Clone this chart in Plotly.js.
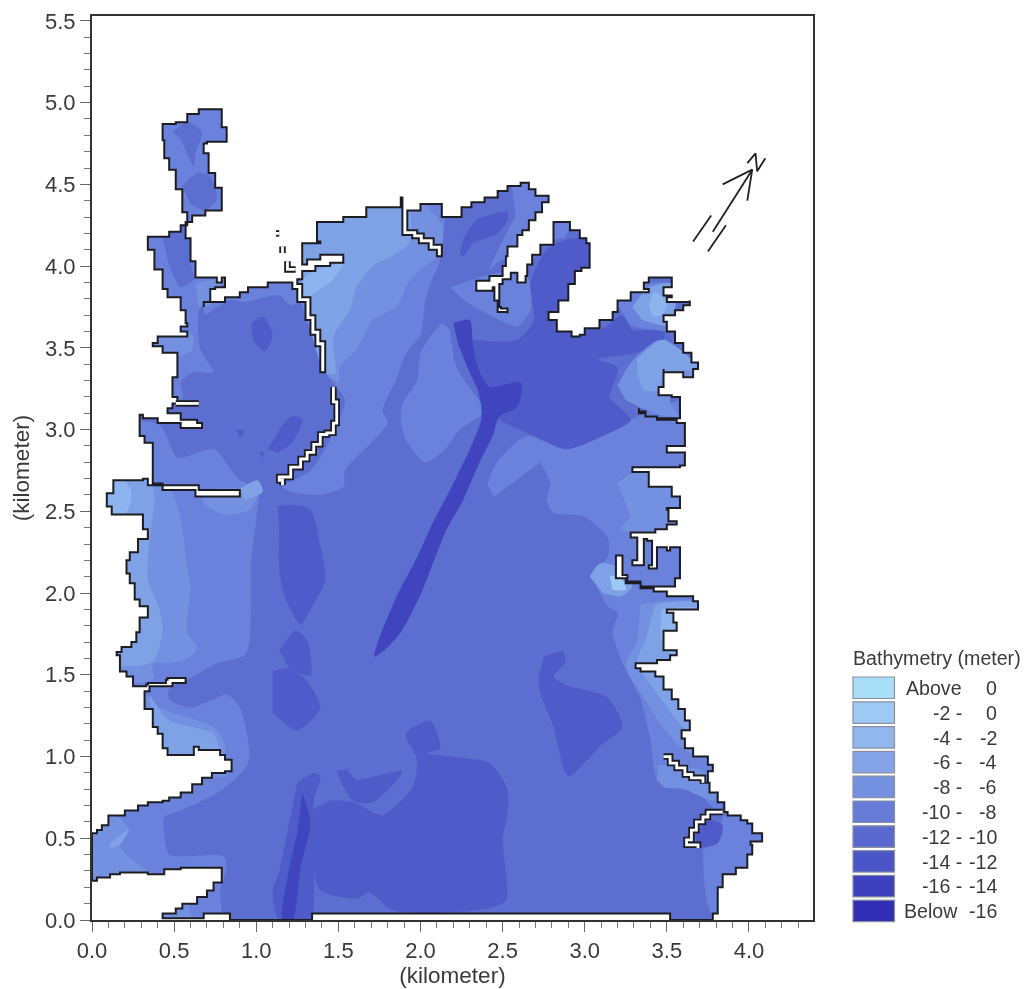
<!DOCTYPE html>
<html><head><meta charset="utf-8">
<script src="https://cdn.plot.ly/plotly-3.0.1.min.js"></script>
<style>html,body{margin:0;padding:0;background:#fff}#chart{filter:blur(.4px)}</style></head>
<body><div id="chart" style="width:1025px;height:989px"></div>
<script>
// Model boundary (km)
const shoreline=[[0,.24],[0,.53],[.03,.55],[.06,.58],[.10,.64],[.20,.67],[.28,.70],[.34,.72],[.43,.73],[.47,.75],[.54,.78],[.61,.83],[.67,.87],[.73,.90],[.81,.91],[.85,.94],[.85,.98],[.81,1.01],[.78,1.04],[.70,1.04],[.65,1.06],[.62,1.01],[.52,1.01],[.46,1.05],[.43,1.14],[.40,1.18],[.37,1.29],[.32,1.33],[.32,1.40],[.35,1.43],[.47,1.43],[.49,1.45],[.57,1.46],[.57,1.48],[.46,1.47],[.45,1.45],[.34,1.44],[.33,1.43],[.26,1.43],[.25,1.49],[.21,1.52],[.17,1.62],[.15,1.64],[.18,1.67],[.24,1.70],[.27,1.76],[.29,1.85],[.34,1.92],[.29,1.96],[.26,2.06],[.23,2.12],[.21,2.20],[.23,2.25],[.28,2.33],[.34,2.39],[.31,2.48],[.15,2.48],[.12,2.53],[.09,2.61],[.13,2.69],[.31,2.70],[.34,2.66],[.43,2.63],[.63,2.63],[.63,2.59],[.90,2.59],[.90,2.63],[.65,2.63],[.65,2.66],[.43,2.67],[.37,2.71],[.37,2.92],[.32,2.96],[.29,3.02],[.29,3.09],[.31,3.09],[.31,3.07],[.40,3.07],[.40,3.04],[.54,3.04],[.54,3.01],[.67,3.01],[.67,3.04],[.64,3.06],[.54,3.07],[.54,3.10],[.46,3.10],[.46,3.13],[.49,3.13],[.49,3.16],[.52,3.20],[.49,3.26],[.49,3.32],[.52,3.47],[.43,3.51],[.37,3.53],[.40,3.57],[.58,3.57],[.58,3.60],[.54,3.60],[.54,3.63],[.58,3.65],[.57,3.73],[.54,3.78],[.54,3.81],[.46,3.86],[.43,3.98],[.38,4.10],[.34,4.14],[.34,4.18],[.47,4.21],[.54,4.25],[.58,4.33],[.55,4.47],[.51,4.59],[.47,4.66],[.44,4.77],[.43,4.87],[.51,4.88],[.58,4.93],[.65,4.96],[.76,4.96],[.79,4.93],[.79,4.85],[.82,4.85],[.82,4.76],[.70,4.75],[.68,4.69],[.71,4.57],[.75,4.48],[.79,4.39],[.79,4.34],[.69,4.31],[.61,4.27],[.57,4.17],[.60,4.03],[.63,3.93],[.76,3.90],[.79,3.93],[.81,3.87],[.75,3.86],[.72,3.78],[.68,3.75],[.68,3.78],[.81,3.81],[.90,3.84],[.95,3.87],[1.07,3.90],[1.18,3.90],[1.22,3.86],[1.25,3.78],[1.30,3.67],[1.33,3.58],[1.36,3.51],[1.39,3.35],[1.42,3.35],[1.42,3.54],[1.39,3.61],[1.36,3.70],[1.33,3.81],[1.28,3.89],[1.25,3.92],[1.28,3.97],[1.36,4.00],[1.45,4.02],[1.53,4.04],[1.53,4.07],[1.39,4.04],[1.31,4.01],[1.28,4.14],[1.39,4.15],[1.37,4.27],[1.53,4.30],[1.67,4.36],[1.75,4.36],[1.88,4.42],[1.89,4.31],[1.89,4.19],[1.95,4.17],[1.99,4.14],[2.05,4.10],[2.10,4.06],[2.13,4.06],[2.13,4.13],[2.08,4.17],[2.02,4.20],[1.98,4.22],[1.92,4.34],[1.95,4.34],[2.00,4.38],[2.09,4.38],[2.13,4.30],[2.25,4.36],[2.31,4.39],[2.39,4.42],[2.47,4.46],[2.53,4.49],[2.61,4.51],[2.66,4.47],[2.70,4.43],[2.78,4.42],[2.78,4.39],[2.74,4.33],[2.70,4.28],[2.66,4.22],[2.62,4.19],[2.59,4.12],[2.53,4.06],[2.52,4.00],[2.50,3.94],[2.42,3.91],[2.34,3.88],[2.34,3.85],[2.44,3.87],[2.45,3.79],[2.47,3.72],[2.53,3.71],[2.53,3.74],[2.49,3.75],[2.48,3.89],[2.50,3.92],[2.55,3.96],[2.59,3.90],[2.64,3.94],[2.65,4.01],[2.68,4.07],[2.73,4.13],[2.81,4.18],[2.81,4.27],[2.89,4.27],[2.91,4.22],[2.97,4.17],[3.01,4.14],[3.03,3.99],[2.98,3.97],[2.94,3.89],[2.90,3.79],[2.84,3.72],[2.78,3.67],[2.83,3.60],[2.92,3.57],[2.97,3.58],[3.00,3.62],[3.09,3.67],[3.17,3.72],[3.20,3.79],[3.28,3.79],[3.28,3.84],[3.39,3.86],[3.36,3.90],[3.39,3.93],[3.48,3.93],[3.53,3.87],[3.48,3.82],[3.53,3.81],[3.50,3.78],[3.60,3.78],[3.64,3.79],[3.64,3.76],[3.60,3.73],[3.55,3.70],[3.48,3.66],[3.50,3.60],[3.55,3.53],[3.60,3.47],[3.65,3.41],[3.69,3.37],[3.66,3.32],[3.61,3.32],[3.60,3.35],[3.48,3.37],[3.48,3.26],[3.45,3.26],[3.45,3.21],[3.53,3.20],[3.58,3.17],[3.58,3.07],[3.44,3.08],[3.37,3.11],[3.33,3.13],[3.33,3.10],[3.37,3.08],[3.44,3.06],[3.56,3.04],[3.61,2.98],[3.61,2.90],[3.50,2.86],[3.61,2.85],[3.61,2.78],[3.58,2.77],[3.46,2.77],[3.29,2.77],[3.29,2.74],[3.39,2.74],[3.39,2.65],[3.53,2.65],[3.53,2.59],[3.58,2.59],[3.58,2.52],[3.50,2.51],[3.51,2.44],[3.56,2.42],[3.50,2.39],[3.43,2.37],[3.28,2.37],[3.28,2.34],[3.32,2.34],[3.32,2.20],[3.29,2.20],[3.29,2.17],[3.36,2.17],[3.36,2.33],[3.38,2.32],[3.41,2.29],[3.41,2.17],[3.39,2.17],[3.39,2.15],[3.44,2.15],[3.44,2.28],[3.50,2.26],[3.52,2.28],[3.58,2.28],[3.58,2.09],[3.55,2.04],[3.48,2.04],[3.43,2.04],[3.34,2.07],[3.26,2.11],[3.23,2.12],[3.23,2.23],[3.20,2.23],[3.19,2.09],[3.25,2.06],[3.34,2.03],[3.42,2.01],[3.50,1.98],[3.58,1.98],[3.66,1.95],[3.69,1.92],[3.69,1.90],[3.50,1.88],[3.54,1.82],[3.56,1.77],[3.48,1.73],[3.48,1.65],[3.56,1.64],[3.56,1.62],[3.52,1.59],[3.45,1.59],[3.44,1.57],[3.31,1.57],[3.31,1.54],[3.34,1.53],[3.34,1.52],[3.42,1.52],[3.43,1.49],[3.48,1.41],[3.53,1.35],[3.57,1.29],[3.61,1.22],[3.64,1.16],[3.59,1.11],[3.61,1.05],[3.66,1.00],[3.75,.95],[3.78,.91],[3.75,.84],[3.70,.84],[3.76,.78],[3.81,.72],[3.85,.69],[3.85,.66],[3.87,.64],[3.95,.61],[3.99,.59],[4.02,.53],[4.08,.50],[4.08,.48],[4.01,.46],[4.02,.40],[3.99,.32],[3.92,.28],[3.84,.20],[3.81,.14],[3.81,.04],[3.78,.03],[3.78,0],[3.55,0],[3.52,.04],[1.34,.04],[1.34,0],[.84,0],[.84,.04],[.68,.04],[.68,.01],[.43,.01],[.43,.04],[.51,.07],[.55,.10],[.64,.14],[.70,.18],[.74,.23],[.79,.26],[.79,.32],[.54,.31],[.44,.28],[.35,.28],[.34,.29],[.17,.28],[.11,.26],[.03,.26],[.03,.24],[0,.24]];

// Breakwaters inside the domain (km)
const wallEast=[[1.47,3.26],[1.47,3.17],[1.49,3.17],[1.49,3.04],[1.47,2.98],[1.43,2.97],[1.39,2.91],[1.35,2.86],[1.31,2.82],[1.27,2.77],[1.21,2.71],[1.14,2.69],[1.16,2.66]];
const wallWest=[[.51,3.16],[.65,3.16]];
const isletA=[[1.12,4.20],[1.14,4.20]];
const isletB=[[1.16,4.12],[1.16,4.08]];
const isletC=[[1.19,4.03],[1.19,3.98],[1.24,3.98]];
const wallShore=[[3.48,1.00],[3.52,.96],[3.56,.93],[3.61,.89],[3.65,.87],[3.72,.84]];
const wallCape=[[3.84,.66],[3.75,.63],[3.72,.60],[3.68,.55],[3.65,.49],[3.62,.46],[3.69,.44]];

// Depth bands: contour outlines (km)
const c5West=[[-.2,3.03],[.41,3.03],[.52,2.83],[.74,2.88],[.90,2.69],[1.01,2.64],[1.00,2.45],[.97,2.20],[.96,1.71],[.93,1.62],[.76,1.57],[.62,1.49],[.47,1.41],[.47,1.35],[.60,1.30],[.74,1.35],[.82,1.38],[.90,1.30],[.96,1.02],[.94,.94],[.80,.80],[.54,.67],[.44,.63],[.44,.52],[.47,.40],[.54,.39],[.80,.39],[.82,.32],[.78,.17],[.80,.03],[.84,-.03],[-.2,-.03]];
const c5Arm=[[.23,5.02],[.90,5.02],[.90,3.83],[.75,3.86],[.69,3.79],[.65,3.73],[.66,3.49],[.74,3.35],[.62,3.35],[.54,3.29],[.55,3.19],[.23,3.18]];
const c5Rim=[[.66,3.83],[1.21,3.95],[1.27,3.79],[1.21,3.76],[1.14,3.82],[.93,3.78],[.84,3.79],[.69,3.70]];
const c5North=[[1.24,3.95],[1.27,4.47],[2.12,4.47],[2.12,4.04],[2.06,3.89],[2.03,3.79],[2.00,3.58],[1.91,3.46],[1.85,3.30],[1.77,3.12],[1.80,3.04],[1.69,2.91],[1.54,2.75],[1.53,2.65],[1.39,2.60],[1.21,2.62],[1.16,2.65],[1.33,2.75],[1.45,2.94],[1.54,3.18],[1.48,3.27],[1.42,3.35],[1.27,3.79]];
const c5Lobe=[[2.13,3.65],[2.06,3.57],[2.00,3.47],[1.98,3.30],[1.89,3.16],[1.88,3.06],[1.91,2.94],[2.03,2.80],[2.15,2.88],[2.24,3.00],[2.38,3.10],[2.38,3.14],[2.22,3.38],[2.18,3.61]];
const c5Tip=[[2.55,4.53],[2.82,4.47],[2.79,4.38],[2.64,4.22],[2.58,4.07],[2.48,4.03],[2.42,3.98],[2.58,4.31]];
const c5Inlet=[[2.18,3.87],[2.32,3.92],[2.48,3.96],[2.65,3.94],[2.67,3.73],[2.59,3.63],[2.44,3.69],[2.28,3.78]];
const c5East=[[2.45,2.59],[2.41,2.67],[2.48,2.82],[2.65,2.96],[2.89,2.88],[3.08,2.98],[3.28,3.06],[3.70,3.18],[3.82,.67],[3.68,.78],[3.52,.81],[3.44,.86],[3.40,1.10],[3.34,1.35],[3.23,1.57],[3.17,1.76],[3.20,1.88],[3.14,1.92],[3.05,2.12],[3.14,2.22],[3.14,2.34],[2.99,2.47],[2.81,2.49],[2.77,2.57],[2.79,2.67],[2.73,2.80]];
const c5Cape=[[3.72,.43],[3.73,.21],[3.78,.03],[4.13,.12],[4.13,.61],[3.85,.64],[3.82,.49]];
const c4West=[[-.2,2.69],[.47,2.63],[.54,2.45],[.58,2.16],[.60,2.04],[.58,1.76],[.64,1.67],[.60,1.61],[.47,1.57],[.37,1.57],[.37,1.47],[-.2,1.47]];
const c4Top=[[.66,2.60],[.69,2.54],[.81,2.48],[.96,2.51],[1.01,2.63],[.66,2.63]];
const c4South=[[.23,1.41],[.33,1.38],[.41,1.30],[.74,1.18],[.80,1.10],[.82,.98],[.83,.89],[.23,.89]];
const c4Arm=[[-.2,.64],[.14,.64],[.23,.55],[.17,.45],[.31,.32],[.44,.24],[-.2,.21]];
const c4Slice=[[.44,.05],[.58,.10],[.60,0],[.41,0]];
const c4Knob=[[.29,3.58],[.61,3.58],[.61,3.49],[.51,3.44],[.29,3.44]];
const c4Neck=[[.63,3.89],[.79,3.92],[.72,3.76],[.65,3.75]];
const c4North=[[1.27,4.04],[1.27,4.47],[1.91,4.47],[2.13,4.25],[2.12,4.07],[2.07,4.03],[1.94,3.92],[1.85,3.75],[1.71,3.67],[1.61,3.49],[1.51,3.38],[1.50,3.29],[1.42,3.35],[1.30,3.73]];
const c4ShoreA=[[3.20,2.67],[3.31,2.75],[3.70,2.75],[3.70,2.39],[3.22,2.39],[3.28,2.47]];
const c4ShoreB=[[3.34,1.93],[3.70,1.93],[3.70,1.01],[3.58,1.06],[3.49,1.16],[3.34,1.39],[3.25,1.56],[3.32,1.70]];
const c4ShoreC=[[3.45,.95],[3.70,.92],[3.79,.86],[3.79,.73],[3.58,.81],[3.49,.81],[3.44,.86]];
const c3West=[[-.2,2.75],[.35,2.69],[.38,2.57],[.35,2.33],[.34,2.09],[.41,1.90],[.43,1.77],[.38,1.59],[.32,1.56],[-.2,1.56]];
const c3South=[[.35,1.38],[.47,1.22],[.74,1.14],[.78,1.04],[.81,1.00],[.41,.98]];
const c3Wedge=[[.11,.47],[.22,.55],[.17,.46],[.11,.44]];
const c3Gap=[[.90,2.64],[1.01,2.69],[1.04,2.62],[.93,2.57]];
const c3North=[[1.27,3.92],[1.27,4.47],[1.89,4.47],[1.94,4.16],[1.86,4.08],[1.71,4.00],[1.61,3.87],[1.57,3.73],[1.47,3.57],[1.48,3.34],[1.42,3.35],[1.30,3.73]];
const c3Shore=[[3.43,1.93],[3.70,1.93],[3.70,1.13],[3.60,1.18],[3.46,1.36],[3.32,1.58],[3.37,1.71]];
const c3Spot=[[3.03,2.10],[3.09,2.18],[3.20,2.16],[3.29,2.04],[3.22,1.98],[3.11,2.00]];
const c2West=[[-.2,2.75],[.17,2.72],[.24,2.61],[.20,2.48],[-.2,2.45]];
const c2North=[[1.28,3.78],[1.39,3.86],[1.47,3.92],[1.53,4.02],[1.45,4.00],[1.35,3.97],[1.28,3.92]];
const c2Shore=[[3.47,1.90],[3.70,1.90],[3.70,1.59],[3.49,1.65],[3.46,1.77]];
const c2Spot=[[3.15,2.11],[3.23,2.08],[3.25,2.02],[3.17,2.02]];
const c6ArmA=[[.49,4.82],[.58,4.88],[.67,4.82],[.63,4.69],[.62,4.61],[.54,4.78]];
const c6ArmB=[[.55,4.49],[.64,4.57],[.72,4.55],[.76,4.41],[.69,4.34],[.60,4.38]];
const c6ArmC=[[.43,4.18],[.58,4.27],[.60,4.02],[.62,3.92],[.54,3.87],[.47,4.00]];
const c7BasinA=[[.97,3.65],[1.04,3.69],[1.10,3.58],[1.05,3.48],[.98,3.55]];
const c7BasinB=[[1.07,2.88],[1.21,3.08],[1.28,3.06],[1.22,2.92],[1.13,2.86]];
const c7DotA=[[1.01,2.86],[1.05,2.86],[1.04,2.83]];
const c7DotB=[[.88,3.00],[.93,2.99],[.90,2.95]];
const c7North=[[2.26,4.16],[2.34,4.28],[2.53,4.33],[2.53,4.28],[2.47,4.20],[2.32,4.14],[2.26,4.06],[2.24,4.08]];
const c7Ne=[[2.30,3.55],[2.59,3.55],[2.69,3.67],[2.67,3.90],[2.77,4.10],[2.88,4.16],[3.09,4.16],[3.09,3.61],[3.22,3.70],[3.25,3.68],[3.29,3.61],[3.48,3.61],[3.48,3.55],[3.32,3.47],[3.08,3.43],[3.20,3.38],[3.17,3.26],[3.15,3.20],[3.28,3.06],[3.11,2.96],[2.89,2.88],[2.65,2.98],[2.48,3.06],[2.36,3.18]];
const c7MidA=[[1.13,2.53],[1.21,2.54],[1.33,2.51],[1.39,2.29],[1.42,2.08],[1.33,1.90],[1.27,1.81],[1.18,1.96],[1.14,2.14],[1.14,2.39]];
const c7MidB=[[1.14,1.65],[1.24,1.77],[1.31,1.71],[1.33,1.50],[1.21,1.53],[1.16,1.62]];
const c7MidC=[[1.10,1.52],[1.18,1.54],[1.30,1.47],[1.39,1.30],[1.25,1.16],[1.10,1.27]];
const c7South=[[1.34,.67],[1.45,.73],[1.59,.72],[1.71,.66],[1.77,.64],[1.95,.81],[1.98,.98],[1.91,1.14],[2.06,1.22],[2.12,1.05],[2.04,1.02],[2.18,1.00],[2.42,.96],[2.53,.80],[2.53,.65],[2.50,.49],[2.52,.12],[2.34,.06],[1.83,.06],[1.69,.17],[1.61,.13],[1.39,.18],[1.35,.31]];
const c7Tri=[[1.49,.91],[1.55,.92],[1.61,.86],[1.89,.91],[1.71,.72],[1.59,.73],[1.51,.86]];
const c7Channel=[[1.25,.84],[1.35,.90],[1.39,.88],[1.35,.73],[1.35,.31],[1.33,0],[1.14,0],[1.10,.18],[1.14,.29]];
const c7East=[[2.75,1.61],[2.87,1.64],[2.88,1.57],[2.81,1.49],[2.91,1.43],[2.99,1.41],[3.14,1.36],[3.23,1.18],[3.09,1.06],[2.90,.88],[2.81,1.18],[2.73,1.39],[2.72,1.49]];
const c7Cape=[[3.67,.52],[3.76,.61],[3.84,.58],[3.81,.47],[3.69,.44]];
const c8Trench=[[2.20,3.65],[2.30,3.67],[2.32,3.51],[2.36,3.35],[2.42,3.26],[2.61,3.29],[2.59,3.14],[2.48,3.08],[2.44,2.96],[2.36,2.80],[2.26,2.57],[2.16,2.39],[2.06,2.14],[2.00,1.99],[1.88,1.76],[1.78,1.65],[1.72,1.61],[1.74,1.70],[1.86,1.99],[1.97,2.20],[2.07,2.42],[2.18,2.63],[2.30,2.88],[2.37,3.06],[2.36,3.21],[2.29,3.37],[2.23,3.52]];
const c8South=[[1.28,.78],[1.33,.59],[1.27,.32],[1.22,0],[1.16,0],[1.19,.26],[1.25,.53]];
const c5Ne=[[3.18,3.79],[3.34,3.89],[3.52,3.89],[3.52,3.61],[3.42,3.61],[3.28,3.64],[3.23,3.72]];
const c5ArmTip=[[2.81,4.27],[2.91,4.27],[2.88,4.18],[2.81,4.16]];
const c4Upper=[[3.20,3.27],[3.26,3.38],[3.32,3.45],[3.46,3.55],[3.70,3.37],[3.52,3.18],[3.58,3.07],[3.40,3.11],[3.25,3.18]];
const c3Ne=[[3.29,3.75],[3.39,3.87],[3.55,3.89],[3.52,3.64],[3.35,3.67]];
const c3Upper=[[3.32,3.43],[3.38,3.49],[3.48,3.55],[3.70,3.37],[3.50,3.35],[3.44,3.24],[3.36,3.24],[3.32,3.35]];
const c2Ne=[[3.39,3.75],[3.42,3.84],[3.50,3.79],[3.48,3.71],[3.42,3.69]];

// North arrow strokes (km)
const northArrow=[[3.66,4.15],[3.77,4.31],null,[3.78,4.21],[4.02,4.59],null,[3.75,4.09],[3.86,4.25],null,[3.84,4.50],[4.02,4.59],[3.99,4.40],null,[3.99,4.63],[4.04,4.69],[4.05,4.58],[4.10,4.66]];

// Legend
const legendTitle="Bathymetry (meter)";
const legendLow=["Above","-2 -","-4 -","-6 -","-8 -","-10 -","-12 -","-14 -","-16 -","Below"];
const legendHigh=["0","0","-2","-4","-6","-8","-10","-12","-14","-16"];
const legendColors=["#A9DEF8","#9CCAF4","#90B7EE","#84A4E7","#7490E0","#667CD8","#5A69CF","#4A55C7","#3D41BE","#2F2EB4"];

const C1="#9CCAF4",C2="#8DB4EE",C3="#7FA2E7",C4="#7490E0",C5="#6A82DB",C6="#5C6ECF",C7="#4E5BC8",C8="#4045BF";
const xRange=[0,4.39], yRange=[0,5.53];
const frameL=92,frameR=813,frameT=16,frameB=920;

const layers=[
 [c5West,C5],[c5Arm,C5],[c5Rim,C5],[c5North,C5],[c5Lobe,C5],[c5Tip,C5],[c5Inlet,C5],[c5East,C5],[c5Cape,C5],
 [c4West,C4],[c4Top,C4],[c4South,C4],[c4Arm,C4],[c4Slice,C4],[c4Knob,C4],[c4Neck,C4],[c4North,C4],[c4ShoreA,C4],[c4ShoreB,C4],[c4ShoreC,C4],
 [c3West,C3],[c3South,C3],[c3Wedge,C3],[c3Gap,C3],[c3North,C3],[c3Shore,C3],[c3Spot,C3],
 [c2West,C2],[c2North,C2],[c2Shore,C2],[c2Spot,C1],
 [c6ArmA,C6],[c6ArmB,C6],[c6ArmC,C6],
 [c7BasinA,C7],[c7BasinB,C7],[c7DotA,C7],[c7DotB,C7],[c7North,C7],[c7Ne,C7],[c7MidA,C7],[c7MidB,C7],[c7MidC,C7],[c7South,C7],[c7Tri,C7],[c7Channel,C7],[c7East,C7],[c7Cape,C7],
 [c8Trench,C8],[c8South,C8],
 [c5Ne,C5],[c5ArmTip,C5],[c4Upper,C4],[c3Ne,C3],[c3Upper,C3],[c2Ne,C2]
];
const xs=p=>p.map(d=>d?d[0]:null), ys=p=>p.map(d=>d?d[1]:null);
const traces=[];
// water background
const seaX=[-1,6,6,-1,-1], seaY=[-1,-1,7,7,-1];
traces.push({x:seaX,y:seaY,mode:'lines',fill:'toself',fillcolor:C6,line:{width:0},hoverinfo:'skip'});
layers.forEach(([p,c])=>traces.push({x:xs(p),y:ys(p),mode:'lines',fill:'toself',fillcolor:c,line:{width:0,shape:'spline',smoothing:.7},hoverinfo:'skip'}));
// land: page-white outside the shoreline
const landX=xs(shoreline).concat([-1,-1,6,6,-1,-1,0]);
const landY=ys(shoreline).concat([.24,-1,-1,7,7,.24,.24]);
traces.push({x:landX,y:landY,mode:'lines',fill:'toself',fillcolor:'#fff',line:{width:0,shape:'hv'},hoverinfo:'skip'});
traces.push({x:xs(shoreline),y:ys(shoreline),mode:'lines',line:{color:'#1c1c22',width:2,shape:'hv'},hoverinfo:'skip'});
[wallEast,wallWest,isletA,isletB,isletC,wallShore,wallCape].forEach(w=>{
  traces.push({x:xs(w),y:ys(w),mode:'lines',line:{color:'#1c1c22',width:6.5,shape:'hv'},hoverinfo:'skip'});
  traces.push({x:xs(w),y:ys(w),mode:'lines',line:{color:'#fff',width:2.8,shape:'hv'},hoverinfo:'skip'});
});
traces.push({x:xs(northArrow),y:ys(northArrow),mode:'lines',line:{color:'#222',width:1.8},hoverinfo:'skip'});

const W=frameR-frameL,H=frameB-frameT;
const px=v=>(v-frameL)/W, py=v=>(frameB-v)/H;
const fontBase={family:'"Liberation Sans",Arial,sans-serif',color:'#3a3a3a'};
const shapes=[],annotations=[];
annotations.push({xref:'paper',yref:'paper',x:px(851),y:py(658),xanchor:'left',yanchor:'middle',text:legendTitle,showarrow:false,font:{...fontBase,size:19.6}});
legendColors.forEach((c,i)=>{
  const top=677+i*24.8;
  shapes.push({type:'rect',xref:'paper',yref:'paper',x0:px(853),x1:px(894.5),y0:py(top+21.5),y1:py(top),fillcolor:c,line:{color:'#8b8f9e',width:1.2}});
  annotations.push({xref:'paper',yref:'paper',x:px(i===9?960:964),y:py(top+11),xanchor:'right',yanchor:'middle',text:legendLow[i],showarrow:false,font:{...fontBase,size:19.6}});
  annotations.push({xref:'paper',yref:'paper',x:px(999),y:py(top+11),xanchor:'right',yanchor:'middle',text:legendHigh[i],showarrow:false,font:{...fontBase,size:19.6}});
});
const axisCommon={showgrid:false,zeroline:false,showline:true,mirror:true,linecolor:'#333',linewidth:2,ticks:'outside',ticklen:10,tickwidth:1.3,tickcolor:'#666',dtick:.5,tick0:0,tickformat:'.1f',tickfont:{...fontBase,size:22},minor:{dtick:.1,ticks:'outside',ticklen:6,tickwidth:1,tickcolor:'#777',showgrid:false},fixedrange:true};
const layout={width:1025,height:989,paper_bgcolor:'#fff',plot_bgcolor:'#fff',showlegend:false,
  margin:{l:frameL,r:1025-frameR,t:frameT,b:989-frameB,pad:0},
  xaxis:{...axisCommon,range:xRange,title:{text:'(kilometer)',font:{...fontBase,size:22.5},standoff:2}},
  yaxis:{...axisCommon,range:yRange,title:{text:'(kilometer)',font:{...fontBase,size:22.5},standoff:9}},
  shapes,annotations};
Plotly.newPlot('chart',traces,layout,{displayModeBar:false,responsive:false});
</script></body></html>
